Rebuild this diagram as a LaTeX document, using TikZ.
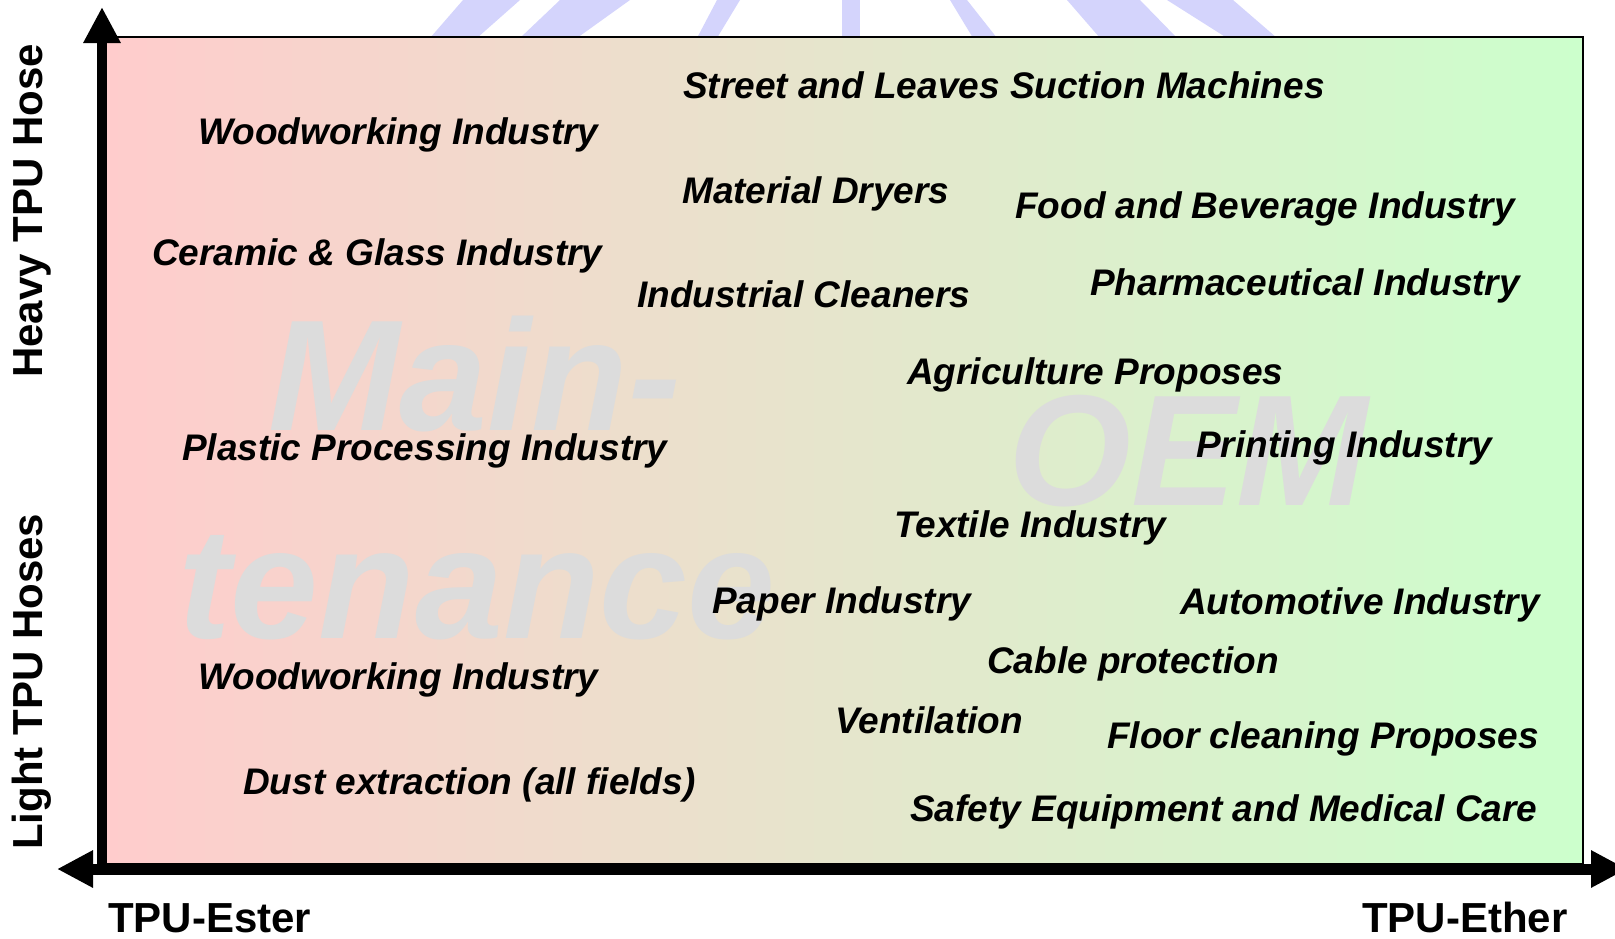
\documentclass[tikz,border=0pt]{standalone}
\usepackage{fontspec}
\setmainfont{Liberation Sans}
\usetikzlibrary{arrows.meta}
\definecolor{esterpink}{RGB}{255,204,204}
\definecolor{ethergreen}{RGB}{204,255,204}
\definecolor{markgrey}{RGB}{220,220,220}
\definecolor{logoblue}{RGB}{212,212,252}
\tikzset{
  field/.style={anchor=base west, inner sep=0pt, font=\fontsize{37}{40}\selectfont\bfseries\itshape},
  axislabel/.style={anchor=base west, inner sep=0pt, font=\fontsize{42}{46}\selectfont\bfseries},
  bigmark/.style={anchor=base west, inner sep=0pt, text=markgrey, font=\fontsize{158}{158}\selectfont\bfseries\itshape},
  stripe/.style={fill=logoblue, draw=none},
  tiphead/.tip={Triangle[length=36pt,width=35pt]},
}
\begin{document}
\begin{tikzpicture}[x=1pt,y=-1pt]
\useasboundingbox (0,0) rectangle (1615,938);

% logo stripes peeking out above the panel
\fill[stripe] (463,0) -- (520,0) -- (477,38) -- (430,38) -- cycle;
\fill[stripe] (560,0) -- (630,0) -- (577,38) -- (520,38) -- cycle;
\fill[stripe] (717,0) -- (740,0) -- (717,38) -- (697,38) -- cycle;
\fill[stripe] (842,0) -- (860,0) -- (860,38) -- (842,38) -- cycle;
\fill[stripe] (950,0) -- (967,0) -- (997,38) -- (973,38) -- cycle;
\fill[stripe] (1067,0) -- (1140,0) -- (1177,38) -- (1100,38) -- cycle;
\fill[stripe] (1167,0) -- (1233,0) -- (1277,38) -- (1227,38) -- cycle;

% panel: ester (left) to ether (right)
\shade[left color=esterpink, right color=ethergreen] (103,37) rectangle (1583,864);
\draw[line width=2pt] (103,37) rectangle (1583,864);

% background marks
\node[bigmark] (mainmark) at (268,430) {Main-};
\node[bigmark] (tenmark) at (178,638) {tenance};
\node[bigmark] (oemmark) at (1008,505) {OEM};

% axes
\coordinate (yorig) at (102,875);
\coordinate (ytip) at (102,7);
\coordinate (xleft) at (57,869);
\coordinate (xright) at (1627,869);
\draw[line width=10pt, -tiphead] (yorig) -- (ytip);
\draw[line width=11pt, tiphead-tiphead] (xleft) -- (xright);

% axis labels
\node[axislabel, rotate=90] (heavy) at (42,378) {Heavy TPU Hose};
\node[axislabel, rotate=90] (light) at (42,850) {Light TPU Hoses};
\node[axislabel] (ester) at (108,932) {TPU-Ester};
\node[axislabel] (ether) at (1362,932) {TPU-Ether};

% fields of application
\node[field] (street) at (683,98) {Street and Leaves Suction Machines};
\node[field] (woodtop) at (198,144) {Woodworking Industry};
\node[field] (dryers) at (682,203) {Material Dryers};
\node[field] (food) at (1015,218) {Food and Beverage Industry};
\node[field] (ceramic) at (152,265) {Ceramic \& Glass Industry};
\node[field] (cleaners) at (637,307) {Industrial Cleaners};
\node[field] (pharma) at (1090,295) {Pharmaceutical Industry};
\node[field] (agri) at (907,384) {Agriculture Proposes};
\node[field] (plastic) at (182,460) {Plastic Processing Industry};
\node[field] (printing) at (1196,457) {Printing Industry};
\node[field] (textile) at (894,537) {Textile Industry};
\node[field] (paper) at (712,613) {Paper Industry};
\node[field] (auto) at (1180,614) {Automotive Industry};
\node[field] (cable) at (987,673) {Cable protection};
\node[field] (woodbot) at (198,689) {Woodworking Industry};
\node[field] (vent) at (835,733) {Ventilation};
\node[field] (floor) at (1107,748) {Floor cleaning Proposes};
\node[field] (dust) at (243,794) {Dust extraction (all fields)};
\node[field] (safety) at (910,821) {Safety Equipment and Medical Care};
\end{tikzpicture}
\end{document}
